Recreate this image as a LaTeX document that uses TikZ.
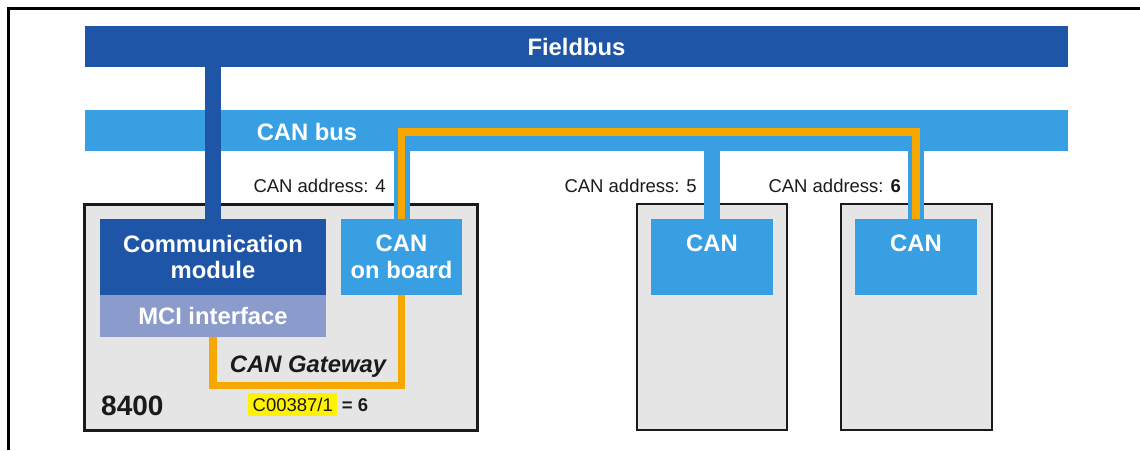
\documentclass[tikz,border=0pt]{standalone}
\usepackage{fontspec}
\setmainfont{Liberation Sans}
\definecolor{fbblue}{RGB}{30,85,167}
\definecolor{canblue}{RGB}{56,160,226}
\definecolor{mcilila}{RGB}{138,155,204}
\definecolor{gworange}{RGB}{247,168,0}
\definecolor{devgray}{RGB}{229,229,229}
\definecolor{txtgray}{RGB}{26,26,26}
\newcommand{\busfont}{\fontsize{23.8}{26.5}\selectfont}
\newcommand{\addrfont}{\fontsize{18.5}{22}\selectfont}
\tikzset{
  busbar/.style={fill,inner sep=0pt,minimum height=41pt,minimum width=983pt,text=white,font=\busfont\bfseries},
  devbox/.style={draw=txtgray,fill=devgray,line width=2.6pt,inner sep=0pt,minimum height=226pt},
  modbox/.style={inner sep=0pt,align=center,text=white,font=\busfont\bfseries},
  canbox/.style={modbox,fill=canblue,minimum width=122pt,minimum height=76pt},
  stubline/.style={line width=16pt},
  gwline/.style={gworange,line width=7.4pt,line join=miter},
  addrtext/.style={inner sep=0pt,text=txtgray,font=\addrfont,anchor=base east},
  darktext/.style={inner sep=0pt,text=txtgray},
  hilite/.style={fill=yellow,inner xsep=4.5pt,inner ysep=0pt,text height=18.3pt,text depth=4pt}
}

\begin{document}
\begin{tikzpicture}[x=1pt,y=-1pt]
  \useasboundingbox (0,0) rectangle (1140,450);
  \draw[line width=3pt] (8,450) -- (8,8) -- (1140,8);

  % busses
  \node[busbar,fill=fbblue] (fieldbus) at (576.5,46.5) {Fieldbus};
  \node[busbar,fill=canblue] (canbus) at (576.5,130) {};
  \node[modbox,anchor=base] (canbustxt) at (307,140) {CAN bus};

  % devices
  \node[devbox,minimum width=393pt] (dev1) at (281,317.5) {};
  \node[devbox,minimum width=150pt] (dev2) at (712,317) {};
  \node[devbox,minimum width=151pt] (dev3) at (916.3,317) {};

  \node[modbox,fill=fbblue,minimum width=226pt,minimum height=76pt] (comm) at (213,257) {Communication\\module};
  \node[modbox,fill=mcilila,minimum width=226pt,minimum height=41.5pt,anchor=north] (mci) at (comm.south) {MCI interface};
  \node[canbox,minimum width=121pt] (cob) at (401.5,257) {CAN\\on board};
  \node[canbox] (can5) at (712,257) {};
  \node[canbox] (can6) at (916,257) {};
  \node[modbox,anchor=base,yshift=-32.7pt] (can5txt) at (can5.north) {CAN};
  \node[modbox,anchor=base,yshift=-32.7pt] (can6txt) at (can6.north) {CAN};

  % stubs
  \draw[stubline,fbblue] (comm.north |- fieldbus.south) -- (comm.north);
  \draw[stubline,canblue] (cob.north |- canbus.center) -- (cob.north);
  \draw[stubline,canblue] (can5.north |- canbus.center) -- (can5.north);
  \draw[stubline,canblue] (can6.north |- canbus.center) -- (can6.north);

  % gateway route
  \draw[gwline] (cob.north) -- ++(0,-87) -| (can6.north);
  \draw[gwline] (mci.south) -- ++(0,48.6) -| (cob.south);

  \node[darktext,anchor=base,font=\busfont\bfseries\itshape] (gwtxt) at (308,372.7) {CAN Gateway};
  \node[darktext,anchor=base west,font=\fontsize{28}{30}\selectfont\bfseries] (devtype) at (101,415) {8400};
  \node[hilite,anchor=base west,text=txtgray,font=\addrfont] (par) at (248,411.7) {C00387/1};
  \node[darktext,anchor=base west,inner xsep=4pt,font=\addrfont\bfseries] (parval) at (par.base east) {= 6};

  \node[addrtext] (addr4) at (386,192.7) {CAN address: 4};
  \node[addrtext] (addr5) at (697,192.7) {CAN address: 5};
  \node[addrtext] (addr6) at (901,192.7) {CAN address: \textbf{6}};
\end{tikzpicture}
\end{document}
